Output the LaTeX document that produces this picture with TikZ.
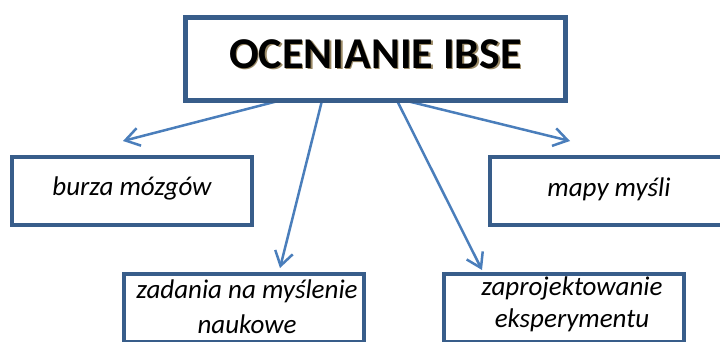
\documentclass[tikz,border=0pt]{standalone}
\usepackage{fontspec}
\setmainfont{Carlito}
\usetikzlibrary{arrows.meta,calc}
\definecolor{boxblue}{HTML}{385D8A}
\definecolor{arrowblue}{HTML}{4A7EBB}
\definecolor{shadowtan}{HTML}{9A8966}
\pgfdeclarelayer{background}
\pgfsetlayers{background,main}
\begin{document}
\begin{tikzpicture}[x=1pt,y=-1pt,
  topic/.style={draw=boxblue,line width=5pt,minimum width=380pt,minimum height=83pt,inner sep=0pt},
  titlefont/.style={font=\fontsize{44}{50}\selectfont\bfseries,inner sep=0pt},
  leaf/.style={draw=boxblue,line width=4pt,minimum width=240pt,minimum height=68pt,inner sep=0pt},
  leaftext/.style={font=\fontsize{27}{33}\selectfont\itshape,align=center,inner sep=0pt},
  link/.style={draw=arrowblue,line width=2.5pt,line cap=round,line join=round,
    -{Straight Barb[length=14pt,width=18pt]}}]
  \useasboundingbox (0,0) rectangle (720,341);

  % central topic
  \node[topic] (title) at (375.5,59) {};
  \node[titlefont,text=shadowtan] (titleshadow) at (377,55.5) {OCENIANIE IBSE};
  \node[titlefont,text=black] (titletext) at (375.5,54) {OCENIANIE IBSE};

  % the four methods
  \node[leaf] (burza) at (132,191) {};
  \node[leaftext] (burzatext) at (132,188) {burza mózgów};
  \node[leaf] (mapy) at (610,191) {};
  \node[leaftext] (mapytext) at (609,189) {mapy myśli};
  \node[leaf] (zadania) at (243.5,307.5) {};
  \node[leaftext,font=\fontsize{27}{35}\selectfont\itshape] (zadaniatext) at (247,307) {zadania na myślenie\\naukowe};
  \node[leaf] (eksp) at (563.5,307.5) {};
  \node[leaftext,font=\fontsize{27}{32}\selectfont\itshape] (eksptext) at (572,304) {zaprojektowanie\\eksperymentu};

  % arrow ends
  \coordinate (s1) at (280,100.5);
  \coordinate (s2) at (322,100.5);
  \coordinate (s3) at (397,100.5);
  \coordinate (s4) at (405,100.5);
  \coordinate (t1) at (123,141);
  \coordinate (t2) at (280,268);
  \coordinate (t3) at (482,270);
  \coordinate (t4) at (570,141);

  \begin{pgfonlayer}{background}
    \draw[link] (s1) -- (t1);
    \draw[link] (s2) -- (t2);
    \draw[link] (s3) -- (t3);
    \draw[link] (s4) -- (t4);
  \end{pgfonlayer}
\end{tikzpicture}
\end{document}
